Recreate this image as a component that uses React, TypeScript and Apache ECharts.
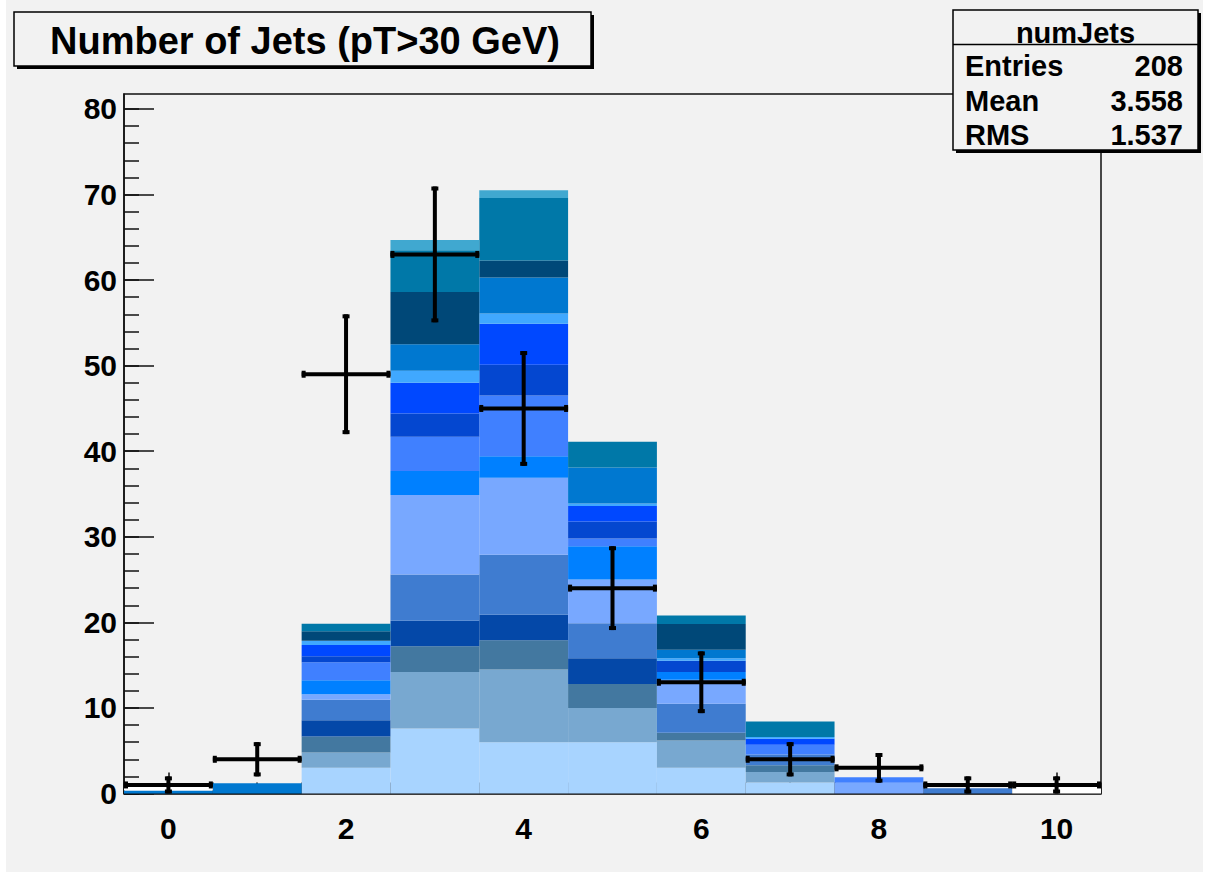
import React, { useEffect, useRef } from "react";
import * as echarts from "echarts";

// Bin centres of the numJets histogram (bins of width 1 from -0.5 to 10.5)
const binCenters = [0, 1, 2, 3, 4, 5, 6, 7, 8, 9, 10];

// Observed counts per bin (drawn as crosses with Poisson errors)
const dataCounts = [1, 4, 49, 63, 45, 24, 13, 4, 3, 1, 1];

// Stacked MC contributions, bottom to top, one array per component
const layer01 = [0, 0, 3.0, 7.6, 6.0, 6.0, 3.0, 1.3, 0, 0, 0];
const layer02 = [0, 0, 1.8, 6.6, 8.5, 4.0, 3.2, 1.2, 0, 0, 0];
const layer03 = [0, 0, 1.85, 3.0, 3.4, 2.8, 0.9, 0.8, 0, 0, 0];
const layer04 = [0, 0, 1.9, 3.0, 3.0, 3.0, 0, 0, 0, 0, 0];
const layer05 = [0, 0, 2.4, 5.4, 7.0, 4.1, 3.4, 1.25, 0, 0.6, 0];
const layer06 = [0, 0, 0.65, 9.3, 9.0, 5.1, 2.8, 0, 1.25, 0, 0];
const layer07 = [0, 0, 1.65, 2.8, 2.5, 3.9, 0.9, 0, 0, 0, 0];
const layer08 = [0, 0, 2.1, 4.0, 7.1, 0.9, 0, 1.15, 0.65, 0, 0];
const layer09 = [0, 0, 0.7, 2.7, 3.6, 2.0, 1.3, 0, 0, 0, 0];
const layer10 = [0, 0, 1.3, 3.6, 4.8, 1.8, 0, 0.7, 0, 0, 0];
const layer11 = [0, 0, 0.5, 1.4, 1.2, 0.3, 0.3, 0.2, 0, 0, 0];
const layer12 = [0.35, 1.2, 0, 3.1, 4.2, 4.2, 1.0, 0, 0, 0, 0];
const layer13 = [0, 0, 1.1, 6.1, 2.0, 0, 3.0, 0, 0, 0, 0];
const layer14 = [0, 0, 0.9, 4.9, 7.3, 3.0, 1.0, 1.8, 0, 0, 0];
const layer15 = [0, 0, 0, 1.2, 0.9, 0, 0, 0, 0, 0, 0];
const layer16 = [0.55, 0, 0, 0, 0, 0, 0, 0, 0, 0, 0.9];

const layers = [
  layer01, layer02, layer03, layer04, layer05, layer06, layer07, layer08,
  layer09, layer10, layer11, layer12, layer13, layer14, layer15, layer16,
];

const layerColors = [
  "#A8D4FF", "#78A8D0", "#4378A0", "#0448A8", "#3F7CD0", "#78A8FF",
  "#0080FF", "#4080FF", "#0447D0", "#0048FF", "#40A8FF", "#0078D0",
  "#004878", "#0078A8", "#40A8D0", "#FFFFFF",
];

// Axis tick positions
const xMajorTicks = [0, 2, 4, 6, 8, 10];
const xMinorTicks = [
  -0.5, 0, 0.5, 1, 1.5, 2, 2.5, 3, 3.5, 4, 4.5, 5, 5.5, 6, 6.5, 7, 7.5, 8,
  8.5, 9, 9.5, 10, 10.5,
];
const yMajorTicks = [0, 10, 20, 30, 40, 50, 60, 70, 80];
const yMinorTicks = [
  0, 2, 4, 6, 8, 10, 12, 14, 16, 18, 20, 22, 24, 26, 28, 30, 32, 34, 36, 38,
  40, 42, 44, 46, 48, 50, 52, 54, 56, 58, 60, 62, 64, 66, 68, 70, 72, 74, 76,
  78, 80,
];

const histTitle = "Number of Jets (pT>30 GeV)";
const histName = "numJets";

const FONT = "'Liberation Sans', Arial, Helvetica, sans-serif";
const AXIS_COLOR = "#111111";
const PAD_COLOR = "#F2F2F2";

export default function App() {
  const ref = useRef<HTMLDivElement>(null);

  useEffect(() => {
    document.body.style.margin = "0";
    if (!ref.current) return;
    const chart = echarts.init(ref.current, undefined, { renderer: "svg" });

    // cumulative bases of the stack
    const bases: number[][] = [];
    const running = binCenters.map(() => 0);
    layers.forEach((vals) => {
      bases.push(running.slice());
      vals.forEach((v, i) => (running[i] += v));
    });

    const stackSeries = layers.map((vals, li) => ({
      type: "custom",
      xAxisIndex: 0,
      yAxisIndex: 0,
      z: 2,
      silent: true,
      encode: { x: 0, y: [1, 2] },
      data: binCenters
        .map((x, i) => [x, bases[li][i], bases[li][i] + vals[i]])
        .filter((d) => d[2] > d[1]),
      renderItem: (_p: any, api: any) => {
        const x = api.value(0);
        const lo = api.coord([x - 0.5, api.value(1)]);
        const hi = api.coord([x + 0.5, api.value(2)]);
        return {
          type: "rect",
          shape: { x: lo[0], y: hi[1], width: hi[0] - lo[0], height: lo[1] - hi[1] },
          style: { fill: layerColors[li] },
        };
      },
    }));

    const dataSeries = {
      type: "custom",
      xAxisIndex: 0,
      yAxisIndex: 0,
      z: 5,
      silent: true,
      clip: false,
      encode: { x: 0, y: 1 },
      data: binCenters.map((x, i) => [x, dataCounts[i], Math.sqrt(dataCounts[i])]),
      renderItem: (_p: any, api: any) => {
        const x = api.value(0);
        const v = api.value(1);
        const e = api.value(2);
        const l = api.coord([x - 0.5, v]);
        const r = api.coord([x + 0.5, v]);
        const t = api.coord([x, v + e]);
        const b = api.coord([x, v - e]);
        const line = { stroke: "#000", lineWidth: 4 };
        const cap = { fill: "#000" };
        return {
          type: "group",
          children: [
            { type: "line", shape: { x1: l[0], y1: l[1], x2: r[0], y2: r[1] }, style: line },
            { type: "line", shape: { x1: t[0], y1: t[1], x2: b[0], y2: b[1] }, style: line },
            { type: "rect", shape: { x: l[0], y: l[1] - 3.5, width: 4, height: 7 }, style: cap },
            { type: "rect", shape: { x: r[0] - 4, y: r[1] - 3.5, width: 4, height: 7 }, style: cap },
            { type: "rect", shape: { x: t[0] - 3.5, y: t[1], width: 7, height: 4 }, style: cap },
            { type: "rect", shape: { x: b[0] - 3.5, y: b[1] - 4, width: 7, height: 4 }, style: cap },
          ],
        };
      },
    };

    // summary statistics of the observed histogram
    const entries = dataCounts.reduce((a, n) => a + n, 0);
    const mean = binCenters.reduce((a, x, i) => a + x * dataCounts[i], 0) / entries;
    const rms = Math.sqrt(
      binCenters.reduce((a, x, i) => a + x * x * dataCounts[i], 0) / entries - mean * mean
    );
    const statRows = [
      ["Entries", String(entries)],
      ["Mean", mean.toFixed(3)],
      ["RMS", rms.toFixed(3)],
    ];
    const statY = [66, 101, 135];

    const tickLine = { color: AXIS_COLOR, width: 1.5 };
    const labelStyle = {
      color: "#000",
      fontFamily: FONT,
      fontWeight: "bold" as const,
      fontSize: 30,
    };

    const gridRect = { left: 124, top: 94, width: 977, height: 699.5 };

    const option = {
      animation: false,
      backgroundColor: "#FFFFFF",
      grid: [
        {
          ...gridRect,
          show: true,
          borderColor: AXIS_COLOR,
          borderWidth: 1.5,
          backgroundColor: "transparent",
        },
        { ...gridRect, show: false },
      ],
      xAxis: [
        {
          type: "value",
          gridIndex: 0,
          min: -0.5,
          max: 10.5,
          axisLine: { show: true, onZero: false, lineStyle: tickLine },
          axisTick: { show: true, inside: true, length: 11, customValues: xMinorTicks, lineStyle: tickLine },
          axisLabel: { show: false },
          splitLine: { show: false },
        },
        {
          type: "value",
          gridIndex: 1,
          min: -0.5,
          max: 10.5,
          axisLine: { show: false, onZero: false },
          axisTick: { show: true, inside: true, length: 21, customValues: xMajorTicks, lineStyle: tickLine },
          axisLabel: { show: true, customValues: xMajorTicks, margin: 20, ...labelStyle },
          splitLine: { show: false },
        },
      ],
      yAxis: [
        {
          type: "value",
          gridIndex: 0,
          min: 0,
          max: 81.75,
          axisLine: { show: true, onZero: false, lineStyle: tickLine },
          axisTick: { show: true, inside: true, length: 15, customValues: yMinorTicks, lineStyle: tickLine },
          axisLabel: { show: false },
          splitLine: { show: false },
        },
        {
          type: "value",
          gridIndex: 1,
          min: 0,
          max: 81.75,
          axisLine: { show: false, onZero: false },
          axisTick: { show: true, inside: true, length: 30, customValues: yMajorTicks, lineStyle: tickLine },
          axisLabel: { show: true, customValues: yMajorTicks, margin: 7, ...labelStyle },
          splitLine: { show: false },
        },
      ],
      series: [...stackSeries, dataSeries],
      graphic: {
        elements: [
          {
            type: "rect",
            z: -100,
            silent: true,
            shape: { x: 6, y: 0, width: 1197, height: 872 },
            style: { fill: PAD_COLOR },
          },
          // title box
          {
            type: "rect",
            z: 100,
            shape: { x: 17, y: 15, width: 577, height: 54 },
            style: { fill: "#000" },
          },
          {
            type: "rect",
            z: 101,
            shape: { x: 14, y: 12, width: 577, height: 54 },
            style: { fill: PAD_COLOR, stroke: "#000", lineWidth: 1.5 },
          },
          {
            type: "text",
            z: 102,
            x: 305,
            y: 41,
            style: {
              text: histTitle,
              font: `bold 38px ${FONT}`,
              fill: "#000",
              align: "center",
              verticalAlign: "middle",
            },
          },
          // statistics box
          {
            type: "rect",
            z: 100,
            shape: { x: 956, y: 13, width: 245, height: 140 },
            style: { fill: "#000" },
          },
          {
            type: "rect",
            z: 101,
            shape: { x: 953, y: 10, width: 245, height: 140 },
            style: { fill: PAD_COLOR, stroke: "#000", lineWidth: 1.5 },
          },
          {
            type: "line",
            z: 102,
            shape: { x1: 953, y1: 44.5, x2: 1198, y2: 44.5 },
            style: { stroke: "#000", lineWidth: 1.5 },
          },
          {
            type: "text",
            z: 102,
            x: 1075.5,
            y: 33,
            style: {
              text: histName,
              font: `bold 29px ${FONT}`,
              fill: "#000",
              align: "center",
              verticalAlign: "middle",
            },
          },
          ...statRows.flatMap((row, i) => [
            {
              type: "text",
              z: 102,
              x: 965,
              y: statY[i],
              style: {
                text: row[0],
                font: `bold 29px ${FONT}`,
                fill: "#000",
                align: "left",
                verticalAlign: "middle",
              },
            },
            {
              type: "text",
              z: 102,
              x: 1183,
              y: statY[i],
              style: {
                text: row[1],
                font: `bold 29px ${FONT}`,
                fill: "#000",
                align: "right",
                verticalAlign: "middle",
              },
            },
          ]),
        ],
      },
    };

    chart.setOption(option as any);
    return () => chart.dispose();
  }, []);

  return (
    <div
      ref={ref}
      style={{ position: "fixed", left: 0, top: 0, width: 1209, height: 878 }}
    />
  );
}
